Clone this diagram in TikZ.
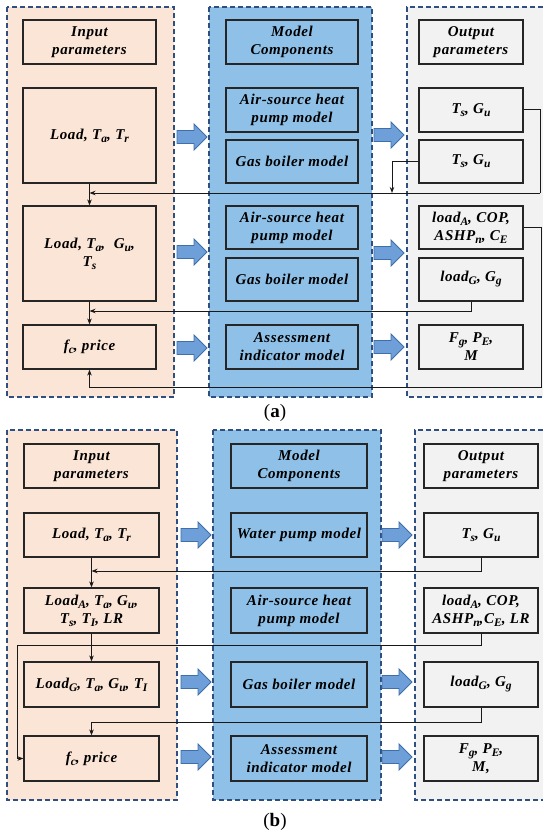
\documentclass[tikz,border=0pt]{standalone}
\usepackage{fontspec}
\setmainfont{Liberation Serif}
\newfontfamily\boxfont[LetterSpace=4]{Liberation Serif}
\usetikzlibrary{arrows.meta}
\definecolor{peach}{HTML}{FBE5D6}
\definecolor{colblue}{HTML}{8FC1E8}
\definecolor{colgray}{HTML}{F2F2F2}
\definecolor{dashblue}{HTML}{2F4F80}
\definecolor{arrfill}{HTML}{6F9FD8}
\definecolor{arrdraw}{HTML}{3F6FA8}
\newcommand{\sub}[1]{\raisebox{-3pt}{\fontsize{11.5}{11.5}\selectfont #1}}
\tikzset{
  colbox/.style={draw=dashblue, line width=1.1pt, dash pattern=on 5pt off 3pt},
  pbox/.style={draw=black!85, line width=1.2pt, align=center, inner sep=1pt,
    font=\boxfont\bfseries\itshape\fontsize{15}{18}\selectfont},
  conn/.style={draw=black!90, line width=1pt, -{Stealth[length=6pt,width=4.5pt]}},
  plain/.style={draw=black!90, line width=1pt},
  barrow/.pic={\draw[fill=arrfill, draw=arrdraw, line width=0.9pt]
    (0,-6.5)--(17,-6.5)--(17,-13)--(30,0)--(17,13)--(17,6.5)--(0,6.5)--cycle;},
  caption/.style={font=\fontsize{19}{22}\selectfont}
}
\begin{document}
\begin{tikzpicture}[x=1pt,y=-1pt]
\useasboundingbox (0,0) rectangle (550,837);
% ---------------- panel (a) columns
\fill[peach] (7,7) rectangle (174,397);
\draw[colbox] (7,7) rectangle (174,397);
\fill[colblue] (209,7) rectangle (372,397);
\draw[colbox] (209,7) rectangle (372,397);
\fill[colgray] (407,7) rectangle (543,397);
\draw[colbox] (543,7) -- (407,7) -- (407,397) -- (543,397);
% ---------------- panel (b) columns
\fill[peach] (7,430) rectangle (177,800);
\draw[colbox] (7,430) rectangle (177,800);
\fill[colblue] (213,430) rectangle (381,800);
\draw[colbox] (213,430) rectangle (381,800);
\fill[colgray] (415,430) rectangle (543,800);
\draw[colbox] (543,430) -- (415,430) -- (415,800) -- (543,800);

% ---------------- panel (a) boxes
\node[pbox, minimum width=133, minimum height=44] (aL0) at (89.5,42) {Input\\parameters};
\node[pbox, minimum width=133, minimum height=95] (aL1) at (89.5,135.5) {Load, T\sub{a}, T\sub{r}};
\node[pbox, minimum width=133, minimum height=95] (aL2) at (89.5,253.5) {Load, T\sub{a},\ \ G\sub{u},\\T\sub{s}};
\node[pbox, minimum width=133, minimum height=44] (aL3) at (89.5,347) {f\sub{c}, price};

\node[pbox, minimum width=132, minimum height=44] (aM0) at (292,42) {Model\\Components};
\node[pbox, minimum width=132, minimum height=44] (aM1) at (292,110) {Air-source heat\\pump model};
\node[pbox, minimum width=132, minimum height=43] (aM2) at (292,161.5) {Gas boiler model};
\node[pbox, minimum width=132, minimum height=43] (aM3) at (292,227.5) {Air-source heat\\pump model};
\node[pbox, minimum width=132, minimum height=43] (aM4) at (292,279.5) {Gas boiler model};
\node[pbox, minimum width=132, minimum height=44] (aM5) at (292,347) {Assessment\\indicator model};

\node[pbox, minimum width=104, minimum height=44] (aR0) at (471,42) {Output\\parameters};
\node[pbox, minimum width=104, minimum height=44] (aR1) at (471,110) {T\sub{s}, G\sub{u}};
\node[pbox, minimum width=104, minimum height=43] (aR2) at (471,161.5) {T\sub{s}, G\sub{u}};
\node[pbox, minimum width=104, minimum height=43] (aR3) at (471,227.5) {load\sub{A}, COP,\\ASHP\sub{n}, C\sub{E}};
\node[pbox, minimum width=104, minimum height=43] (aR4) at (471,279.5) {load\sub{G}, G\sub{g}};
\node[pbox, minimum width=104, minimum height=44] (aR5) at (471,347) {F\sub{g}, P\sub{E},\\M};

% block arrows (a)
\pic at (177,137) {barrow};
\pic at (177,252) {barrow};
\pic at (177,348) {barrow};
\pic at (374,135) {barrow};
\pic at (374,253) {barrow};
\pic at (374,347) {barrow};

% connectors (a)
\coordinate (ja1) at (89.5,193);
\coordinate (ja2) at (89.5,311);
\coordinate (ja3) at (89.5,387);
\coordinate (xa1) at (540,0);
\coordinate (xa2) at (392,0);
\coordinate (xa3) at (541,0);
\draw[conn] (aL1.south) -- (aL2.north);
\draw[plain] (aR1.east) -| (xa1 |- ja1);
\draw[conn] (xa1 |- ja1) -- (ja1);
\draw[conn] (aR2.west) -| (xa2 |- ja1);
\draw[conn] (aL2.south) -- (aL3.north);
\draw[conn] (aR4.south) |- (ja2);
\draw[conn] (aR3.east) -| (xa3 |- ja3) -- (ja3) -- (aL3.south);

\node[caption] (capa) at (275,413) {(\textbf{a})};

% ---------------- panel (b) boxes
\node[pbox, minimum width=135, minimum height=44] (bL0) at (91.5,466) {Input\\parameters};
\node[pbox, minimum width=135, minimum height=44] (bL1) at (91.5,535) {Load, T\sub{a}, T\sub{r}};
\node[pbox, minimum width=135, minimum height=45] (bL2) at (91.5,610.5) {Load\sub{A}, T\sub{a}, G\sub{u},\\T\sub{s}, T\sub{I}, LR};
\node[pbox, minimum width=135, minimum height=45] (bL3) at (91.5,684.5) {Load\sub{G}, T\sub{a}, G\sub{u}, T\sub{I}};
\node[pbox, minimum width=135, minimum height=45] (bL4) at (91.5,758.5) {f\sub{c}, price};

\node[pbox, minimum width=136, minimum height=44] (bM0) at (299,466) {Model\\Components};
\node[pbox, minimum width=136, minimum height=44] (bM1) at (299,535) {Water pump model};
\node[pbox, minimum width=136, minimum height=45] (bM2) at (299,610.5) {Air-source heat\\pump model};
\node[pbox, minimum width=136, minimum height=45] (bM3) at (299,684.5) {Gas boiler model};
\node[pbox, minimum width=136, minimum height=45] (bM4) at (299,758.5) {Assessment\\indicator model};

\node[pbox, minimum width=114, minimum height=44] (bR0) at (481,466) {Output\\parameters};
\node[pbox, minimum width=114, minimum height=44] (bR1) at (481,535) {T\sub{s}, G\sub{u}};
\node[pbox, minimum width=114, minimum height=45] (bR2) at (481,610.5) {load\sub{A}, COP,\\ASHP\sub{n},C\sub{E}, LR};
\node[pbox, minimum width=114, minimum height=45] (bR3) at (481,684.5) {load\sub{G}, G\sub{g}};
\node[pbox, minimum width=114, minimum height=45] (bR4) at (481,758.5) {F\sub{g}, P\sub{E},\\M,};

% block arrows (b)
\pic at (181,535) {barrow};
\pic at (181,682) {barrow};
\pic at (181,757) {barrow};
\pic at (382,535) {barrow};
\pic at (382,682) {barrow};
\pic at (382,757) {barrow};

% connectors (b)
\coordinate (jb1) at (91.5,571);
\coordinate (jb2) at (17,645);
\coordinate (jb3) at (91.5,722);
\draw[conn] (bL1.south) -- (bL2.north);
\draw[conn] (bR1.south) |- (jb1);
\draw[conn] (bL2.south) -- (bL3.north);
\draw[conn] (bR2.south) |- (jb2) |- (bL4.west);
\draw[conn] (bR3.south) |- (jb3) -- (bL4.north);

\node[caption] (capb) at (275,822) {(\textbf{b})};
\end{tikzpicture}
\end{document}
